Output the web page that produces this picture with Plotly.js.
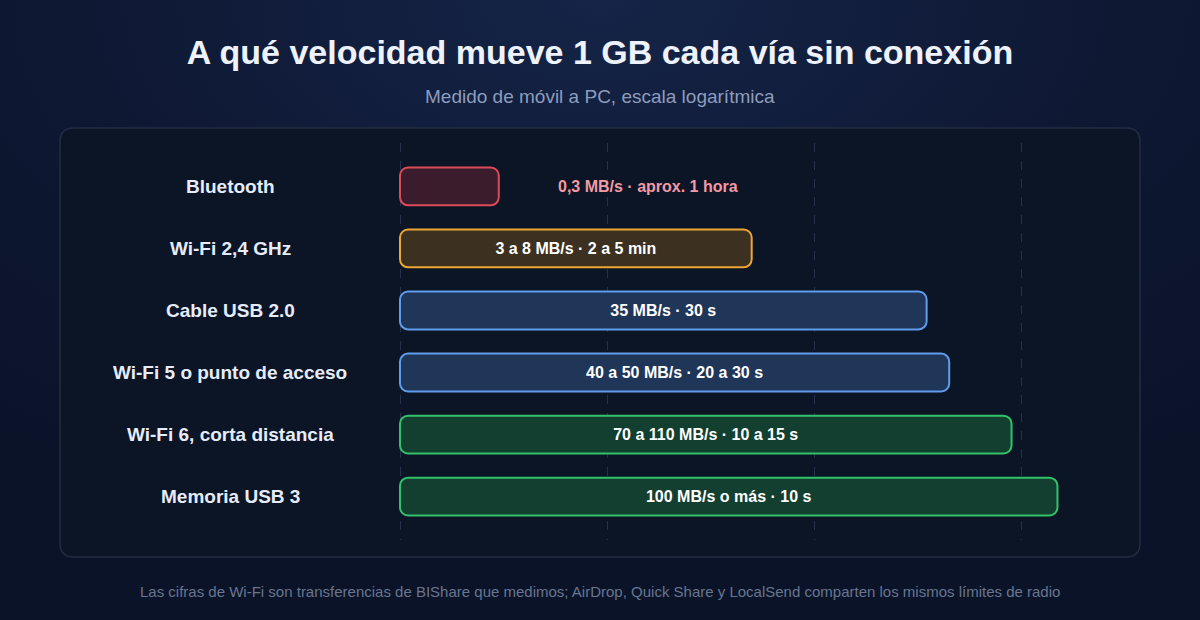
<!DOCTYPE html>
<html>
<head>
<meta charset="utf-8">
<script src="https://cdn.plot.ly/plotly-3.0.1.min.js"></script>
<style>
  html, body { margin: 0; padding: 0; }
  body {
    width: 1200px; height: 620px; overflow: hidden;
    background: radial-gradient(ellipse 80% 90% at 50% 0%, #152447 0%, #0e1833 55%, #0b1329 100%);
  }
  #chart { width: 1200px; height: 620px; }
</style>
</head>
<body>
<div id="chart"></div>
<script>
// rows, top to bottom
const categories = ["Bluetooth", "Wi-Fi 2,4 GHz", "Cable USB 2.0", "Wi-Fi 5 o punto de acceso", "Wi-Fi 6, corta distancia", "Memoria USB 3"]
// approximate top speed in MB/s (log scale bar end)
const speeds = [0.3, 5, 35, 45, 90, 150]
const barLabels = ["0,3 MB/s · aprox. 1 hora", "3 a 8 MB/s · 2 a 5 min", "35 MB/s · 30 s", "40 a 50 MB/s · 20 a 30 s", "70 a 110 MB/s · 10 a 15 s", "100 MB/s o más · 10 s"]
const fills = ["#3b1c2c", "#3c3020", "#1f3658", "#1f3658", "#123f30", "#123f30"]
const borders = ["#dc4c58", "#eda634", "#5f9cec", "#5f9cec", "#33c26a", "#33c26a"]
const gridVals = [0.1, 1, 10, 100]
const baseSpeed = 0.1

const title = "A qué velocidad mueve 1 GB cada vía sin conexión"
const subtitle = "Medido de móvil a PC, escala logarítmica"
const footer = "Las cifras de Wi-Fi son transferencias de BIShare que medimos; AirDrop, Quick Share y LocalSend comparten los mismos límites de radio"

// plot area in pixels; a few px of slack on the left so the 0.1 gridline is not clipped
const PAD = 4
const L = 400 - PAD, R = 1110, T = 143, B = 540
const W = 1200, H = 620
const DECADE = 207
const px = x => (x - L) / (R - L)
const py = y => (B - y) / (B - T)
const FONT = "Liberation Sans, Arial, sans-serif"

function roundRect(x0, y0, x1, y1, r){
    const rx = r / (R - L), ry = r / (B - T)
    const a = px(x0), b = px(x1), top = py(y0), bot = py(y1)
    return "M" + (a + rx) + "," + top +
        " L" + (b - rx) + "," + top +
        " Q" + b + "," + top + " " + b + "," + (top - ry) +
        " L" + b + "," + (bot + ry) +
        " Q" + b + "," + bot + " " + (b - rx) + "," + bot +
        " L" + (a + rx) + "," + bot +
        " Q" + a + "," + bot + " " + a + "," + (bot + ry) +
        " L" + a + "," + (top - ry) +
        " Q" + a + "," + top + " " + (a + rx) + "," + top + " Z"
}

// first bar is too short, its label sits outside
const insideText = barLabels.map((t, i) => speeds[i] < 1 ? "" : t)

const data = [{
    type: "bar",
    orientation: "h",
    y: categories,
    x: speeds.map(s => s - baseSpeed),
    base: baseSpeed,
    text: insideText,
    textposition: "inside",
    insidetextanchor: "middle",
    textangle: 0,
    constraintext: "none",
    textfont: {family: FONT, size: 16, color: "#ffffff", weight: 700},
    marker: {
        color: fills,
        line: {color: borders, width: 2},
        cornerradius: 8
    },
    hoverinfo: "skip"
}]

const annotations = []
categories.forEach((c, i) => {
    annotations.push({
        xref: "paper", yref: "y",
        x: px(230), y: c,
        xanchor: "center", yanchor: "middle",
        text: c, showarrow: false,
        font: {family: FONT, size: 19, color: "#e6ecfa", weight: 700}
    })
    if (speeds[i] < 1){
        annotations.push({
            xref: "x", yref: "y",
            x: Math.log10(speeds[i]), y: c,
            xanchor: "left", yanchor: "middle", xshift: 57,
            text: barLabels[i], showarrow: false,
            font: {family: FONT, size: 16, color: "#f39aa4", weight: 700}
        })
    }
})
annotations.push({
    xref: "paper", yref: "paper", x: px(600), y: py(96),
    xanchor: "center", yanchor: "middle", showarrow: false,
    text: subtitle,
    font: {family: FONT, size: 19, color: "#8e9cbc"}
})
annotations.push({
    xref: "paper", yref: "paper", x: px(600), y: py(591),
    xanchor: "center", yanchor: "middle", showarrow: false,
    text: footer,
    font: {family: FONT, size: 15, color: "#68768f"}
})

const layout = {
    width: W, height: H,
    margin: {l: L, r: W - R, t: T, b: H - B},
    paper_bgcolor: "rgba(0,0,0,0)",
    plot_bgcolor: "rgba(0,0,0,0)",
    showlegend: false,
    bargap: 0.39,
    title: {
        text: "<b>" + title + "</b>",
        x: 0.5, xref: "container", xanchor: "center",
        y: 1 - 52 / H, yref: "container", yanchor: "middle",
        font: {family: FONT, size: 34, color: "#eef2fd"}
    },
    xaxis: {
        type: "log",
        range: [-1 - PAD / DECADE, -1 + (R - 400) / DECADE],
        tickvals: gridVals,
        showticklabels: false,
        showgrid: true,
        gridcolor: "#25304a",
        griddash: "dash",
        gridwidth: 1,
        zeroline: false,
        showline: false,
        fixedrange: true
    },
    yaxis: {
        type: "category",
        categoryorder: "array",
        categoryarray: categories,
        range: [5.7, -0.7],
        showticklabels: false,
        showgrid: false,
        zeroline: false,
        showline: false,
        fixedrange: true
    },
    shapes: [{
        type: "path",
        xref: "paper", yref: "paper",
        path: roundRect(60, 128, 1140, 557, 14),
        fillcolor: "#0c1526",
        line: {color: "#232d43", width: 1.5},
        layer: "below"
    }],
    annotations: annotations
}

Plotly.newPlot("chart", data, layout, {displayModeBar: false, staticPlot: true})
</script>
</body>
</html>
